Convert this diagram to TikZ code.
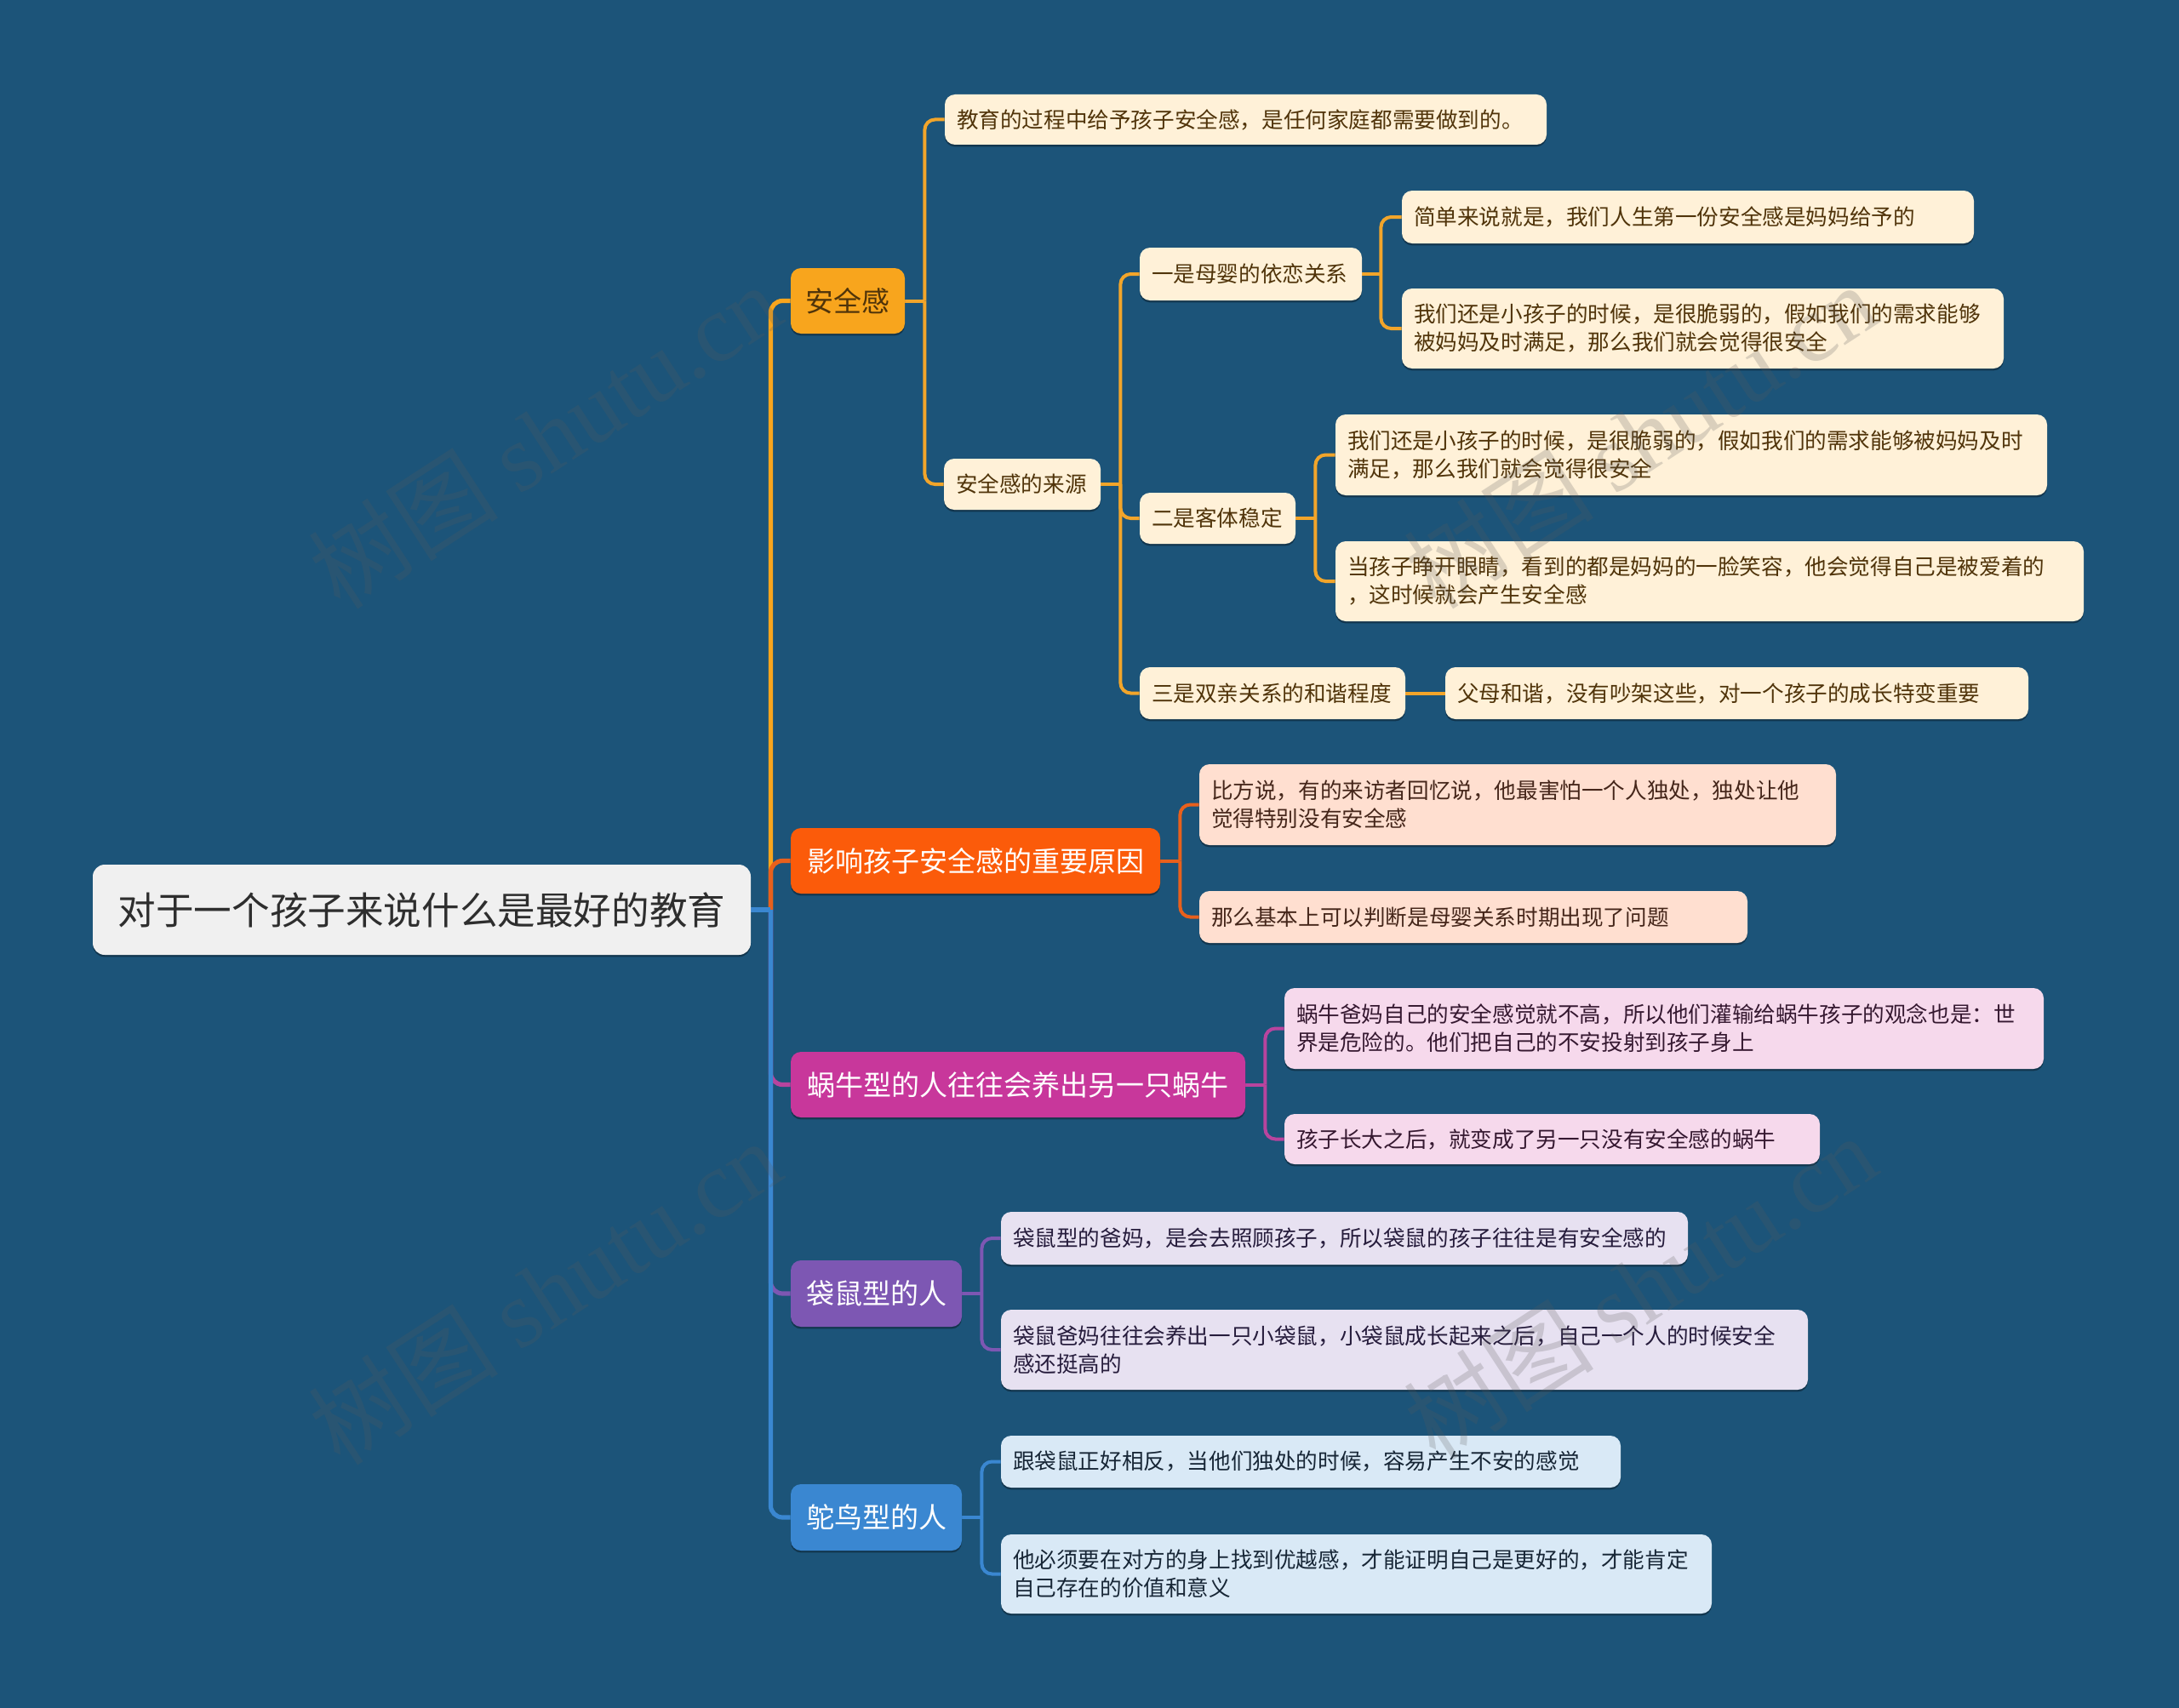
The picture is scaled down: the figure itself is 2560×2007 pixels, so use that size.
\documentclass[tikz,border=0pt]{standalone}
\usepackage{fontspec}
\setmainfont{Noto Sans CJK SC}
\newfontfamily\wmfont{Liberation Serif}
\usetikzlibrary{shadows,backgrounds}
\definecolor{bg}{HTML}{1C5479}
\definecolor{cA}{HTML}{F8A51D}
\definecolor{cAl}{HTML}{F2A52A}
\definecolor{cB}{HTML}{FB5B0A}
\definecolor{cBl}{HTML}{E8601C}
\definecolor{cC}{HTML}{C8379B}
\definecolor{cCl}{HTML}{B8449E}
\definecolor{cD}{HTML}{7D57B3}
\definecolor{cE}{HTML}{3A87D1}
\definecolor{cream}{HTML}{FFF1D8}
\definecolor{creamtx}{HTML}{50340A}
\definecolor{peach}{HTML}{FFDFD0}
\definecolor{peachtx}{HTML}{45261A}
\definecolor{pink}{HTML}{F6D9EC}
\definecolor{pinktx}{HTML}{351830}
\definecolor{lav}{HTML}{E7E1F1}
\definecolor{lavtx}{HTML}{261C3C}
\definecolor{lblue}{HTML}{D9E9F6}
\definecolor{lbluetx}{HTML}{172636}
\definecolor{rootfill}{HTML}{F0F0F0}
\definecolor{roottx}{HTML}{2E2E2E}
\definecolor{wmgray}{HTML}{5A5A5A}
\newcommand\mnode[7]{%
  \pgfmathsetmacro\mw{(#5-#3)/2}%
  \pgfmathsetmacro\mh{(#6-#4)/2}%
  \pgfmathsetmacro\tw{(#5-#3)/2-14}%
  \node[#1, minimum width=\mw pt, minimum height=\mh pt, text width=\tw pt] (#2) at ({(#3+#5)/2},{(#4+#6)/2}) {#7};}
\begin{document}
\begin{tikzpicture}[x=0.5pt,y=-0.5pt,
  shd/.style={drop shadow={shadow xshift=0pt, shadow yshift=-1.2pt, opacity=0.35, fill=black}},
  box/.style={shd, rounded corners=6pt, inner xsep=7pt, inner ysep=0pt, align=left, font=\fontsize{12.8}{16.5}\selectfont},
  cbox/.style={box, fill=cream, text=creamtx},
  pbox/.style={box, fill=peach, text=peachtx},
  kbox/.style={box, fill=pink, text=pinktx},
  vbox/.style={box, fill=lav, text=lavtx},
  bbox/.style={box, fill=lblue, text=lbluetx},
  lone/.style={shd, rounded corners=6pt, inner xsep=7pt, inner ysep=0pt, align=center, font=\fontsize{16.5}{20}\selectfont, text=white},
  rootbox/.style={shd, rounded corners=7pt, inner xsep=7pt, inner ysep=0pt, align=center, font=\fontsize{22.3}{26}\selectfont, fill=rootfill, text=roottx},
  conn/.style={line width=2pt, draw=#1, rounded corners=6pt},
  rconn/.style={line width=2.6pt, draw=#1, rounded corners=7pt},
  wm/.style={text=wmgray, opacity=0.22, rotate=33, font=\fontsize{56}{60}\selectfont},
]
\useasboundingbox (0,0) rectangle (2560,2007);

% nodes
\mnode{rootbox}{root}{109}{1016}{882}{1122}{对于一个孩子来说什么是最好的教育}
\mnode{lone, fill=cA, text=creamtx}{A}{929}{315}{1063}{392}{安全感}
\mnode{lone, fill=cB}{B}{929}{973}{1363}{1050}{影响孩子安全感的重要原因}
\mnode{lone, fill=cC}{C}{929}{1236}{1463}{1313}{蜗牛型的人往往会养出另一只蜗牛}
\mnode{lone, fill=cD}{D}{929}{1481}{1130}{1559}{袋鼠型的人}
\mnode{lone, fill=cE}{E}{929}{1744}{1130}{1822}{鸵鸟型的人}

\mnode{cbox}{A1}{1110}{111}{1817}{170}{教育的过程中给予孩子安全感，是任何家庭都需要做到的。}
\mnode{cbox}{A2}{1109}{539}{1293}{599}{安全感的来源}
\mnode{cbox}{A21}{1339}{291}{1600}{353}{一是母婴的依恋关系}
\mnode{cbox}{A22}{1339}{579}{1522}{639}{二是客体稳定}
\mnode{cbox}{A23}{1339}{784}{1651}{845}{三是双亲关系的和谐程度}
\mnode{cbox}{A211}{1647}{224}{2319}{286}{简单来说就是，我们人生第一份安全感是妈妈给予的}
\mnode{cbox}{A212}{1647}{339}{2354}{433}{我们还是小孩子的时候，是很脆弱的，假如我们的需求能够\\被妈妈及时满足，那么我们就会觉得很安全}
\mnode{cbox}{A221}{1569}{487}{2405}{582}{我们还是小孩子的时候，是很脆弱的，假如我们的需求能够被妈妈及时\\满足，那么我们就会觉得很安全}
\mnode{cbox}{A222}{1569}{636}{2448}{730}{当孩子睁开眼睛，看到的都是妈妈的一脸笑容，他会觉得自己是被爱着的\\，这时候就会产生安全感}
\mnode{cbox}{A231}{1698}{784}{2383}{845}{父母和谐，没有吵架这些，对一个孩子的成长特变重要}

\mnode{pbox}{B1}{1409}{898}{2157}{993}{比方说，有的来访者回忆说，他最害怕一个人独处，独处让他\\觉得特别没有安全感}
\mnode{pbox}{B2}{1409}{1047}{2053}{1108}{那么基本上可以判断是母婴关系时期出现了问题}

\mnode{kbox}{C1}{1509}{1161}{2401}{1256}{蜗牛爸妈自己的安全感觉就不高，所以他们灌输给蜗牛孩子的观念也是：世\\界是危险的。他们把自己的不安投射到孩子身上}
\mnode{kbox}{C2}{1509}{1309}{2138}{1368}{孩子长大之后，就变成了另一只没有安全感的蜗牛}

\mnode{vbox}{D1}{1176}{1424}{1983}{1486}{袋鼠型的爸妈，是会去照顾孩子，所以袋鼠的孩子往往是有安全感的}
\mnode{vbox}{D2}{1176}{1539}{2124}{1633}{袋鼠爸妈往往会养出一只小袋鼠，小袋鼠成长起来之后，自己一个人的时候安全\\感还挺高的}

\mnode{bbox}{E1}{1176}{1687}{1904}{1748}{跟袋鼠正好相反，当他们独处的时候，容易产生不安的感觉}
\mnode{bbox}{E2}{1176}{1803}{2011}{1896}{他必须要在对方的身上找到优越感，才能证明自己是更好的，才能肯定\\自己存在的价值和意义}

% background and connectors (behind nodes)
\begin{scope}[on background layer]
  \fill[bg] (0,0) rectangle (2560,2007);
  % root
  \draw[rconn=cA] (root.east) ++(23,0) |- (A.west);
  \draw[rconn=cBl] (root.east) ++(23,0) |- (B.west);
  \draw[rconn=cCl] (root.east) ++(23,0) |- (C.west);
  \draw[rconn=cD] (root.east) ++(23,0) |- (D.west);
  \draw[rconn=cE] (root.east) ++(23,0) |- (E.west);
  \draw[rconn=cE] (root.east) -- ++(23,0);
  % 安全感
  \draw[conn=cAl] (A.east) -- ++(23,0);
  \draw[conn=cAl] (A.east) ++(23,0) |- (A1.west);
  \draw[conn=cAl] (A.east) ++(23,0) |- (A2.west);
  % 安全感的来源
  \draw[conn=cAl] (A2.east) -- ++(23,0);
  \draw[conn=cAl] (A2.east) ++(23,0) |- (A21.west);
  \draw[conn=cAl] (A2.east) ++(23,0) |- (A22.west);
  \draw[conn=cAl] (A2.east) ++(23,0) |- (A23.west);
  % 一是
  \draw[conn=cAl] (A21.east) -- ++(22,0);
  \draw[conn=cAl] (A21.east) ++(22,0) |- (A211.west);
  \draw[conn=cAl] (A21.east) ++(22,0) |- (A212.west);
  % 二是
  \draw[conn=cAl] (A22.east) -- ++(23,0);
  \draw[conn=cAl] (A22.east) ++(23,0) |- (A221.west);
  \draw[conn=cAl] (A22.east) ++(23,0) |- (A222.west);
  % 三是
  \draw[conn=cAl] (A23.east) -- (A231.west);
  % 影响
  \draw[conn=cBl] (B.east) -- ++(23,0);
  \draw[conn=cBl] (B.east) ++(23,0) |- (B1.west);
  \draw[conn=cBl] (B.east) ++(23,0) |- (B2.west);
  % 蜗牛
  \draw[conn=cCl] (C.east) -- ++(23,0);
  \draw[conn=cCl] (C.east) ++(23,0) |- (C1.west);
  \draw[conn=cCl] (C.east) ++(23,0) |- (C2.west);
  % 袋鼠
  \draw[conn=cD] (D.east) -- ++(23,0);
  \draw[conn=cD] (D.east) ++(23,0) |- (D1.west);
  \draw[conn=cD] (D.east) ++(23,0) |- (D2.west);
  % 鸵鸟
  \draw[conn=cE] (E.east) -- ++(23,0);
  \draw[conn=cE] (E.east) ++(23,0) |- (E1.west);
  \draw[conn=cE] (E.east) ++(23,0) |- (E2.west);
\end{scope}

% watermarks
\node[wm] (wm1) at (640,512) {树图 {\wmfont shutu.cn}};
\node[wm] (wm2) at (640,1518) {树图 {\wmfont shutu.cn}};
\node[wm] (wm3) at (1927,512) {树图 {\wmfont shutu.cn}};
\node[wm] (wm4) at (1927,1512) {树图 {\wmfont shutu.cn}};
\end{tikzpicture}
\end{document}
